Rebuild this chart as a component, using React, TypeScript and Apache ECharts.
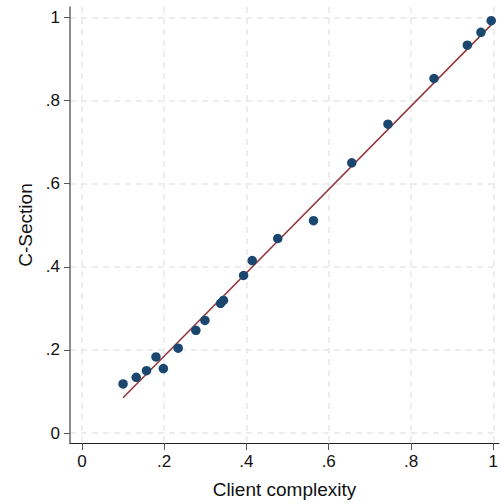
import React, { useEffect, useRef } from "react";
import * as echarts from "echarts";

const pointX = [0.100, 0.132, 0.157, 0.180, 0.198, 0.234, 0.277, 0.299, 0.337, 0.344, 0.393, 0.414, 0.476, 0.563, 0.656, 0.744, 0.856, 0.937, 0.970, 0.995];
const pointY = [0.118, 0.134, 0.150, 0.183, 0.155, 0.204, 0.247, 0.271, 0.312, 0.319, 0.379, 0.415, 0.468, 0.511, 0.650, 0.743, 0.853, 0.933, 0.964, 0.992];
const fitX = [0.100, 0.995];
const fitY = [0.085, 0.982];
const tickValues = [0, 0.2, 0.4, 0.6, 0.8, 1];
const xTitle = "Client complexity";
const yTitle = "C-Section";

const fmt = (v: number) => {
  if (Math.abs(v) < 1e-9) return "0";
  if (Math.abs(v - 1) < 1e-9) return "1";
  return "." + String(Math.round(v * 10));
};

export default function App() {
  const ref = useRef<HTMLDivElement>(null);
  useEffect(() => {
    if (!ref.current) return;
    const chart = echarts.init(ref.current, null, { renderer: "svg" });
    const font = "'Liberation Sans', Arial, sans-serif";
    const gridLine = { show: true, lineStyle: { color: "#e8e8e8", width: 1.5, type: [6, 5] as any } };
    chart.setOption({
      animation: false,
      backgroundColor: "#ffffff",
      grid: { left: 70, right: 0, top: 7, bottom: 60, containLabel: false },
      xAxis: {
        type: "value",
        min: -0.029,
        max: 1.0138,
        name: xTitle,
        nameLocation: "middle",
        nameGap: 37,
        nameTextStyle: { fontFamily: font, fontSize: 19, color: "#111" },
        axisLine: { show: true, onZero: false, lineStyle: { color: "#222", width: 1 } },
        axisTick: { show: true, length: 7, customValues: tickValues, lineStyle: { color: "#555" } },
        axisLabel: { customValues: tickValues, formatter: fmt, fontFamily: font, fontSize: 17, color: "#111", margin: 10 },
        splitLine: gridLine,
      },
      yAxis: {
        type: "value",
        min: -0.024,
        max: 1.025,
        name: yTitle,
        nameLocation: "middle",
        nameGap: 30,
        nameTextStyle: { fontFamily: font, fontSize: 19, color: "#111" },
        axisLine: { show: true, onZero: false, lineStyle: { color: "#666", width: 1.5 } },
        axisTick: { show: true, length: 6, customValues: tickValues, lineStyle: { color: "#555" } },
        axisLabel: { customValues: tickValues, formatter: fmt, fontFamily: font, fontSize: 17, color: "#111", margin: 10 },
        splitLine: gridLine,
      },
      series: [
        {
          type: "line",
          data: fitX.map((x, i) => [x, fitY[i]]),
          symbol: "none",
          lineStyle: { color: "#90353b", width: 1.5 },
          z: 2,
        },
        {
          type: "scatter",
          data: pointX.map((x, i) => [x, pointY[i]]),
          symbol: "circle",
          symbolSize: 9.5,
          itemStyle: { color: "#1a476f", opacity: 1 },
          z: 3,
        },
      ],
    });
    return () => chart.dispose();
  }, []);
  return <div ref={ref} style={{ width: 501, height: 504, position: "absolute", left: 0, top: 0 }} />;
}
